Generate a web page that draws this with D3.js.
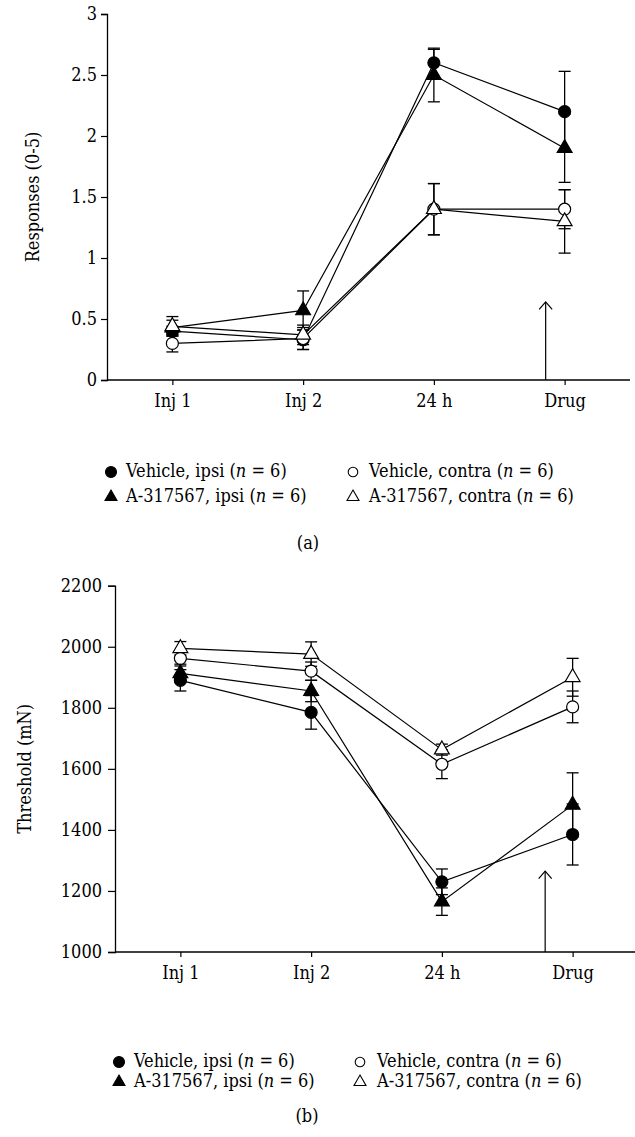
<!DOCTYPE html>
<html>
<head>
<meta charset="utf-8">
<script src="https://cdn.jsdelivr.net/npm/d3@7/dist/d3.min.js"></script>
<style>
  html, body { margin: 0; padding: 0; background: #fff; }
  svg { display: block; }
  svg text { font-stretch: condensed; }
</style>
</head>
<body>
<svg id="chart" width="635" height="1137"></svg>
<script>
// ---------- DATA ----------
const timepoints = ["Inj 1", "Inj 2", "24 h", "Drug"];
const seriesNames = ["Vehicle, ipsi", "Vehicle, contra", "A-317567, ipsi", "A-317567, contra"];
const seriesN = [6, 6, 6, 6];

// Panel (a): Responses (0-5)
const aVehicleIpsi      = [0.40, 0.33, 2.60, 2.20];
const aVehicleIpsiErr   = [0.04, 0.08, 0.11, 0.33];
const aVehicleContra    = [0.30, 0.34, 1.40, 1.40];
const aVehicleContraErr = [0.07, 0.09, 0.21, 0.16];
const aDrugIpsi         = [0.43, 0.57, 2.50, 1.90];
const aDrugIpsiErr      = [0.06, 0.16, 0.22, 0.28];
const aDrugContra       = [0.44, 0.37, 1.40, 1.30];
const aDrugContraErr    = [0.08, 0.08, 0.21, 0.26];
const aYTicks = [0, 0.5, 1, 1.5, 2, 2.5, 3];
const aArrowValue = 0.64;

// Panel (b): Threshold (mN)
const bVehicleIpsi      = [1890, 1785, 1230, 1385];
const bVehicleIpsiErr   = [35, 55, 42, 100];
const bVehicleContra    = [1962, 1920, 1615, 1803];
const bVehicleContraErr = [25, 30, 47, 52];
const bDrugIpsi         = [1913, 1855, 1165, 1482];
const bDrugIpsiErr      = [30, 35, 45, 105];
const bDrugContra       = [1995, 1976, 1663, 1900];
const bDrugContraErr    = [22, 40, 18, 62];
const bYTicks = [1000, 1200, 1400, 1600, 1800, 2000, 2200];
const bArrowValue = 1265;

// ---------- DRAW ----------
const svg = d3.select("#chart");
const FONT = 18;
const FAMILY = '"DejaVu Serif Condensed", "DejaVu Serif"';
const markerTypes = [
  { shape: "circle", fill: "#000" },
  { shape: "circle", fill: "#fff" },
  { shape: "triangle", fill: "#000" },
  { shape: "triangle", fill: "#fff" }
];

function drawMarker(g, type, cx, cy) {
  if (type.shape === "circle") {
    g.append("circle").attr("cx", cx).attr("cy", cy).attr("r", 6)
      .attr("fill", type.fill).attr("stroke", "#000").attr("stroke-width", 1.2);
  } else {
    g.append("path")
      .attr("d", d3.symbol().type(d3.symbolTriangle).size(95)())
      .attr("transform", `translate(${cx},${cy})`)
      .attr("fill", type.fill).attr("stroke", "#000").attr("stroke-width", 1.2);
  }
}

function drawPanel(cfg) {
  const g = svg.append("g").attr("font-family", FAMILY).style("font-family", FAMILY);
  const x = d3.scalePoint().domain(timepoints).range([cfg.left, cfg.right]).padding(0.5);
  const y = d3.scaleLinear().domain(cfg.yDomain).range([cfg.bottom, cfg.top]);

  const yAxis = g.append("g").attr("transform", `translate(${cfg.left},0)`)
    .call(d3.axisLeft(y).tickValues(cfg.yTicks).tickFormat(d => String(d))
      .tickSizeOuter(0).tickSize(cfg.yTickSize).tickPadding(cfg.yTickPad));
  const xAxis = g.append("g").attr("transform", `translate(0,${cfg.bottom})`)
    .call(d3.axisBottom(x).tickSizeOuter(0).tickSize(5).tickPadding(cfg.xTickPad));
  [yAxis, xAxis].forEach(ax => {
    ax.attr("font-family", FAMILY).attr("font-size", FONT);
    ax.select(".domain").attr("stroke", "#000").attr("stroke-width", 1.3);
    ax.selectAll(".tick line").attr("stroke", "#000").attr("stroke-width", 1.2);
    ax.selectAll(".tick text").attr("font-size", FONT).attr("fill", "#000")
      .style("font-family", FAMILY);
  });
  xAxis.select(".domain").attr("d", `M${cfg.left},0H${cfg.right}`);

  g.append("text")
    .attr("transform", `translate(${cfg.titleX},${(cfg.top + cfg.bottom) / 2}) rotate(-90)`)
    .attr("text-anchor", "middle").attr("dominant-baseline", "middle")
    .attr("font-size", FONT).style("font-family", FAMILY).text(cfg.yTitle);

  const ax0 = x("Drug") - cfg.arrowOffset * x.step();
  const tipY = y(cfg.arrowValue);
  g.append("line").attr("x1", ax0).attr("x2", ax0).attr("y1", cfg.bottom).attr("y2", tipY)
    .attr("stroke", "#000").attr("stroke-width", 1.2);
  g.append("path").attr("d", `M${ax0 - 6.5},${tipY + 7.5}L${ax0},${tipY}L${ax0 + 6.5},${tipY + 7.5}`)
    .attr("fill", "none").attr("stroke", "#000").attr("stroke-width", 1.2);

  const series = cfg.series;
  const line = d3.line().x((d, i) => x(timepoints[i])).y(d => y(d));
  series.forEach(s => {
    g.append("path").attr("d", line(s.values)).attr("fill", "none")
      .attr("stroke", "#000").attr("stroke-width", 1.2);
  });
  const cap = 6;
  series.forEach(s => {
    s.values.forEach((v, i) => {
      const cx = x(timepoints[i]);
      const e = s.err[i];
      const y1 = y(v + e), y2 = y(v - e);
      g.append("line").attr("x1", cx).attr("x2", cx).attr("y1", y1).attr("y2", y2)
        .attr("stroke", "#000").attr("stroke-width", 1.3);
      [y1, y2].forEach(yy => g.append("line").attr("x1", cx - cap).attr("x2", cx + cap)
        .attr("y1", yy).attr("y2", yy).attr("stroke", "#000").attr("stroke-width", 1.3));
    });
  });
  series.forEach((s, k) => {
    s.values.forEach((v, i) => drawMarker(g, markerTypes[k], x(timepoints[i]), y(v)));
  });

  const lg = cfg.legend;
  seriesNames.forEach((name, k) => {
    const col = k % 2, row = Math.floor(k / 2);
    const mx = col === 0 ? lg.mx0 : lg.mx1;
    const tx = col === 0 ? lg.tx0 : lg.tx1;
    const yy = lg.y0 + row * lg.dy;
    const type = markerTypes[k];
    if (type.shape === "circle") {
      g.append("circle").attr("cx", mx).attr("cy", yy).attr("r", type.fill === "#000" ? 5.5 : 4.8)
        .attr("fill", type.fill).attr("stroke", "#000").attr("stroke-width", 1.1);
    } else {
      g.append("path").attr("d", d3.symbol().type(d3.symbolTriangle).size(62)())
        .attr("transform", `translate(${mx},${yy})`)
        .attr("fill", type.fill).attr("stroke", "#000").attr("stroke-width", 1.1);
    }
    const t = g.append("text").attr("x", tx).attr("y", yy).attr("dominant-baseline", "middle")
      .attr("font-size", FONT).style("font-family", FAMILY);
    t.append("tspan").text(name + " (");
    t.append("tspan").attr("font-style", "italic").text("n");
    t.append("tspan").text(" = " + seriesN[k] + ")");
  });
  g.append("text").attr("x", lg.capX).attr("y", lg.capY).attr("text-anchor", "middle")
    .attr("dominant-baseline", "middle").attr("font-size", FONT).style("font-family", FAMILY)
    .text(lg.caption);
}

drawPanel({
  left: 107, right: 630, top: 14, bottom: 380,
  yDomain: [0, 3], yTicks: aYTicks, yTickSize: 6, yTickPad: 4, xTickPad: 9,
  titleX: 34, yTitle: "Responses (0-5)",
  arrowOffset: 0.145, arrowValue: aArrowValue,
  series: [
    { values: aVehicleIpsi, err: aVehicleIpsiErr },
    { values: aVehicleContra, err: aVehicleContraErr },
    { values: aDrugIpsi, err: aDrugIpsiErr },
    { values: aDrugContra, err: aDrugContraErr }
  ],
  legend: { mx0: 111, tx0: 126, mx1: 353, tx1: 369, y0: 472, dy: 25, capX: 308, capY: 544, caption: "(a)" }
});

drawPanel({
  left: 115, right: 638, top: 585.7, bottom: 952,
  yDomain: [1000, 2200], yTicks: bYTicks, yTickSize: 7, yTickPad: 6, xTickPad: 9,
  titleX: 26, yTitle: "Threshold (mN)",
  arrowOffset: 0.21, arrowValue: bArrowValue,
  series: [
    { values: bVehicleIpsi, err: bVehicleIpsiErr },
    { values: bVehicleContra, err: bVehicleContraErr },
    { values: bDrugIpsi, err: bDrugIpsiErr },
    { values: bDrugContra, err: bDrugContraErr }
  ],
  legend: { mx0: 119, tx0: 134, mx1: 360, tx1: 377, y0: 1062, dy: 20, capX: 307, capY: 1117, caption: "(b)" }
});
</script>
</body>
</html>
